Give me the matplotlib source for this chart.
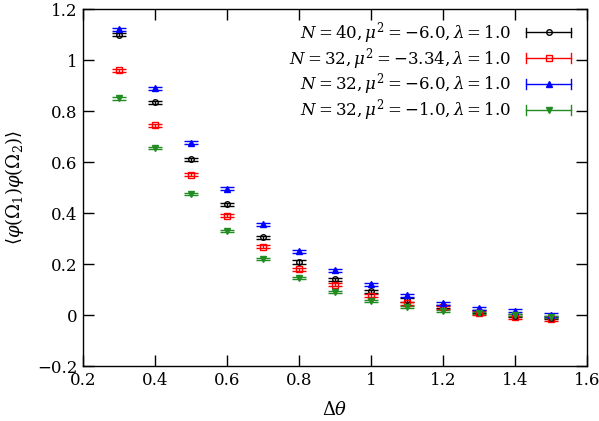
import numpy as np
import matplotlib
matplotlib.use('Agg')
import matplotlib.pyplot as plt
from matplotlib.lines import Line2D
from matplotlib.legend_handler import HandlerLine2D

plt.rcParams['font.family'] = ['DejaVu Serif']
plt.rcParams['mathtext.fontset'] = 'dejavuserif'

dtheta = [0.3, 0.4, 0.5, 0.6, 0.7, 0.8, 0.9, 1.0, 1.1, 1.2, 1.3, 1.4, 1.5]

corr_n40_m6 = [1.10, 0.835, 0.61, 0.435, 0.305, 0.208, 0.14, 0.094, 0.059, 0.035, 0.012, -0.003, -0.010]
corr_n32_m334 = [0.96, 0.745, 0.55, 0.39, 0.268, 0.18, 0.118, 0.075, 0.047, 0.031, 0.008, -0.008, -0.016]
corr_n32_m6 = [1.12, 0.89, 0.675, 0.495, 0.355, 0.25, 0.176, 0.12, 0.078, 0.047, 0.027, 0.016, 0.0]
corr_n32_m1 = [0.85, 0.655, 0.475, 0.33, 0.22, 0.145, 0.09, 0.055, 0.031, 0.016, 0.008, 0.0, -0.008]

err_n40_m6 = [0.006] * 13
err_n32_m334 = [0.006] * 13
err_n32_m6 = [0.006] * 13
err_n32_m1 = [0.005] * 13

labels = [r'$N=40, \mu^2=-6.0, \lambda=1.0$',
          r'$N=32, \mu^2=-3.34, \lambda=1.0$',
          r'$N=32, \mu^2=-6.0, \lambda=1.0$',
          r'$N=32, \mu^2=-1.0, \lambda=1.0$']


class HandlerCapLine(HandlerLine2D):
    # gnuplot-style key: horizontal line with end caps and marker in the middle
    def create_artists(self, legend, orig_handle, xdescent, ydescent,
                       width, height, fontsize, trans):
        y = height / 2 - ydescent
        x0, x1 = -xdescent, width - xdescent
        c = orig_handle.get_color()
        line = Line2D([x0, x1], [y, y], color=c, lw=1.0)
        mk = Line2D([(x0 + x1) / 2], [y], marker=orig_handle.get_marker(),
                    markersize=orig_handle.get_markersize(),
                    markerfacecolor=orig_handle.get_markerfacecolor(),
                    markeredgecolor=c, linestyle='none')
        cap = height * 0.4
        c1 = Line2D([x0, x0], [y - cap, y + cap], color=c, lw=1.0)
        c2 = Line2D([x1, x1], [y - cap, y + cap], color=c, lw=1.0)
        arts = [line, mk, c1, c2]
        for a in arts:
            a.set_transform(trans)
        return arts


fig = plt.figure(figsize=(5.99, 4.21), dpi=100)
ax = fig.add_axes([0.1386, 0.1306, 0.8414, 0.848])

series = [
    (corr_n40_m6, err_n40_m6, 'black', 'o', 'none'),
    (corr_n32_m334, err_n32_m334, '#ff0000', 's', 'none'),
    (corr_n32_m6, err_n32_m6, '#0000ff', '^', '#0000ff'),
    (corr_n32_m1, err_n32_m1, '#228b22', 'v', '#228b22'),
]

handles = []
for (vals, errs, col, mk, fc), lab in zip(series, labels):
    ax.errorbar(dtheta, vals, yerr=errs, fmt=mk, color=col, mfc=fc, mec=col,
                ms=4, capsize=5, elinewidth=1.0, capthick=1.0, mew=1.0)
    handles.append(Line2D([], [], color=col, marker=mk, markersize=4,
                          markerfacecolor=fc, label=lab))

ax.set_xlim(0.2, 1.6)
ax.set_ylim(-0.2, 1.2)
ax.set_xticks(np.arange(0.2, 1.61, 0.2))
ax.set_yticks(np.arange(-0.2, 1.21, 0.2))
ax.set_xticklabels(['0.2', '0.4', '0.6', '0.8', '1', '1.2', '1.4', '1.6'])
ax.set_yticklabels(['\u22120.2', '0', '0.2', '0.4', '0.6', '0.8', '1', '1.2'])
ax.tick_params(direction='in', top=True, right=True, length=8, width=1,
               labelsize=12, pad=4)
for sp in ax.spines.values():
    sp.set_linewidth(1.0)

ax.set_xlabel(r'$\Delta\theta$', fontsize=13, labelpad=9)
ax.set_ylabel(r'$\langle\varphi(\Omega_1)\varphi(\Omega_2)\rangle$', fontsize=13, labelpad=8)

ax.legend(handles=handles, handler_map={Line2D: HandlerCapLine()},
          loc='upper right', frameon=False, markerfirst=False, fontsize=12,
          handlelength=2.7, handletextpad=0.9, labelspacing=0.0,
          bbox_to_anchor=(0.998, 1.012), alignment='right')

fig.savefig('out.png', dpi=100)
